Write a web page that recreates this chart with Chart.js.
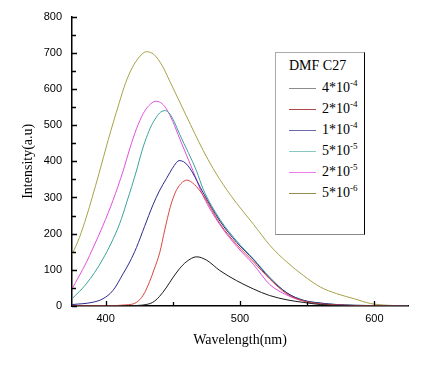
<!DOCTYPE html>
<html>
<head>
<meta charset="utf-8">
<script src="https://cdn.jsdelivr.net/npm/chart.js@4.4.0/dist/chart.umd.min.js"></script>
<style>
  body { margin: 0; background: #fff; }
  #wrap { position: relative; width: 425px; height: 374px; }
  #legend {
    position: absolute; left: 275px; top: 52px; width: 88px; height: 181px;
    border: 1px solid #aaa; border-right-color: #000; border-bottom-color: #888;
    background: #fff; font-family: "Liberation Serif", serif; font-size: 14px; color: #000;
  }
  #legend .ttl { position: absolute; left: 13px; top: 5px; }
  #legend .row { position: absolute; left: 13px; height: 16px; }
  #legend .ln { position: absolute; left: 0; top: 8px; width: 27px; height: 0; border-top: 1px solid; }
  #legend .tx { position: absolute; left: 33px; top: 0; white-space: nowrap; }
  #legend sup { font-size: 9px; vertical-align: 6px; line-height: 0; }
</style>
</head>
<body>
<div id="wrap">
  <canvas id="canvas" width="425" height="374"></canvas>
  <div id="legend"><div class="ttl">DMF C27</div></div>
</div>
<script>
// concentrations (legend labels) - base and exponent
var concBase = ['4', '2', '1', '5', '2', '5'];
var concExp = ['-4', '-4', '-4', '-5', '-5', '-6'];
var colors = ['#1a1a1a', '#d9473d', '#2b2b8f', '#3ba39b', '#e050e0', '#a7a24a'];
var legendColors = ['#8c8c8c', '#b04a4a', '#6a6aaa', '#88c8c4', '#ee7aee', '#958c4c'];

// 4*10^-4
var wl1 = [375, 400, 420, 430, 435, 440, 445, 450, 455, 460, 467.7, 475, 485, 497.5, 510, 522, 535, 547, 560, 575, 600, 625];
var int1 = [0, 0, 1, 4, 10, 26, 50, 78, 103, 122, 136, 127, 98, 70, 47, 29, 17, 10, 4, 1, 0, 0];
// 2*10^-4
var wl2 = [375, 400, 415, 423, 428, 432.8, 436, 440.3, 444, 448, 452, 456, 460.5, 466, 472.6, 485, 497.5, 510, 522, 535, 547, 560, 572, 590, 625];
var int2 = [1, 1, 3, 10, 30, 68, 100, 148, 210, 272, 315, 338, 348, 336, 306, 228, 170, 122, 75, 33, 14, 6, 3, 1, 0];
// 1*10^-4
var wl3 = [375, 390, 398, 405.5, 413, 418, 423, 429, 435.3, 440, 445.2, 448, 451, 454.7, 458, 461, 464, 472.6, 485, 497.5, 510, 522, 535, 547, 560, 572, 585, 600, 625];
var int3 = [4, 10, 20, 43, 89, 122, 162, 220, 280, 318, 352, 370, 388, 402, 399, 389, 373, 313, 235, 176, 128, 77, 36, 16, 8, 4, 2, 1, 0];
// 5*10^-5
var wl4 = [375, 385.6, 398, 410.4, 416, 422.9, 427, 430.3, 434, 437.8, 441, 444.5, 448, 451, 455.2, 467.7, 472.6, 485, 497.5, 510, 522, 535, 547, 560, 572, 585, 600, 625];
var int4 = [20, 61, 130, 227, 290, 373, 428, 465, 498, 522, 536, 540, 530, 510, 474, 373, 323, 240, 180, 130, 80, 36, 16, 8, 4, 2, 1, 0];
// 2*10^-5
var wl5 = [375, 385.6, 390.6, 398, 405.5, 413, 418, 423, 428, 432, 437.3, 441, 445.2, 450, 455.2, 465.1, 472.6, 485, 497.5, 510, 522, 535, 547, 560, 572, 585, 625];
var int5 = [47, 120, 160, 222, 292, 373, 435, 490, 532, 553, 566, 562, 545, 510, 462, 373, 304, 225, 165, 115, 60, 30, 14, 7, 3, 1, 0];
// 5*10^-6
var wl6 = [375, 380.6, 385.6, 390, 395, 402, 410, 415, 420, 425, 430.4, 436, 442, 447.8, 460, 472.6, 480, 490, 497.5, 510, 522.4, 535, 547.3, 560, 572, 585, 597, 610, 625];
var int6 = [142, 190, 245, 300, 365, 460, 560, 618, 660, 688, 703, 695, 665, 621, 526, 430, 380, 322, 284, 226, 167, 121, 84, 52, 34, 20, 7, 2, 0];

var yTickMarks = [0, 50, 100, 150, 200, 250, 300, 350, 400, 450, 500, 550, 600, 650, 700, 750, 800];
var xTickMarks = [400, 450, 500, 550, 600];

var wls = [wl1, wl2, wl3, wl4, wl5, wl6];
var ints = [int1, int2, int3, int4, int5, int6];

var datasets = wls.map(function(wl, k){
    return {
        label: concBase[k] + '*10^' + concExp[k],
        data: wl.map(function(x, i){ return {x: x, y: ints[k][i]}; }),
        borderColor: colors[k],
        backgroundColor: 'transparent',
        borderWidth: 1,
        pointRadius: 0,
        cubicInterpolationMode: 'monotone'
    };
});

// html legend with real superscripts
var legend = document.getElementById('legend');
concBase.forEach(function(b, k){
    var row = document.createElement('div');
    row.className = 'row';
    row.style.top = (27 + k * 21) + 'px';
    row.innerHTML = '<div class="ln" style="border-top-color:' + legendColors[k] + '"></div>' +
        '<div class="tx">' + b + '*10<sup>' + concExp[k] + '</sup></div>';
    legend.appendChild(row);
});

// inward tick marks like the origin plot
var innerTicks = {
    id: 'innerTicks',
    afterDraw: function(chart){
        var ctx = chart.ctx, xs = chart.scales.x, ys = chart.scales.y;
        ctx.save();
        ctx.strokeStyle = '#000';
        ctx.lineWidth = 1.3;
        ctx.beginPath();
        yTickMarks.forEach(function(v){
            var py = Math.round(ys.getPixelForValue(v)) + 0.5;
            var len = v % 100 === 0 ? 5 : 4;
            ctx.moveTo(xs.left, py);
            ctx.lineTo(xs.left + len, py);
        });
        xTickMarks.forEach(function(v){
            var px = Math.round(xs.getPixelForValue(v)) + 0.5;
            var len = v % 100 === 0 ? 5 : 4;
            ctx.moveTo(px, ys.bottom);
            ctx.lineTo(px, ys.bottom - len);
        });
        ctx.stroke();
        ctx.restore();
    }
};

var ctx = document.getElementById('canvas').getContext('2d');
var myChart = new Chart(ctx, {
    type: 'line',
    data: { datasets: datasets },
    plugins: [innerTicks],
    options: {
        responsive: false,
        animation: false,
        layout: { padding: { left: 0, top: 15, right: 17, bottom: 0 } },
        plugins: { legend: { display: false }, tooltip: { enabled: false } },
        scales: {
            x: {
                type: 'linear',
                min: 375,
                max: 625,
                afterFit: function(scale){ scale.height = 68; },
                grid: { display: false, drawTicks: false },
                border: { display: true, color: '#000', width: 1.5 },
                ticks: {
                    stepSize: 100,
                    includeBounds: false,
                    padding: 6,
                    color: '#000',
                    font: { family: 'Liberation Sans', size: 11 }
                },
                title: {
                    display: true,
                    text: 'Wavelength(nm)',
                    color: '#000',
                    padding: { top: 0, bottom: 25 },
                    font: { family: 'Liberation Serif', size: 14 }
                }
            },
            y: {
                min: 0,
                max: 800,
                afterFit: function(scale){ scale.width = 72; },
                grid: { display: false, drawTicks: false },
                border: { display: true, color: '#000', width: 1.5 },
                ticks: {
                    stepSize: 100,
                    padding: 10,
                    color: '#000',
                    font: { family: 'Liberation Sans', size: 11 }
                },
                title: {
                    display: true,
                    text: 'Intensity(a.u)',
                    color: '#000',
                    padding: { top: 20, bottom: 0 },
                    font: { family: 'Liberation Serif', size: 14 }
                }
            }
        }
    }
});
</script>
</body>
</html>
